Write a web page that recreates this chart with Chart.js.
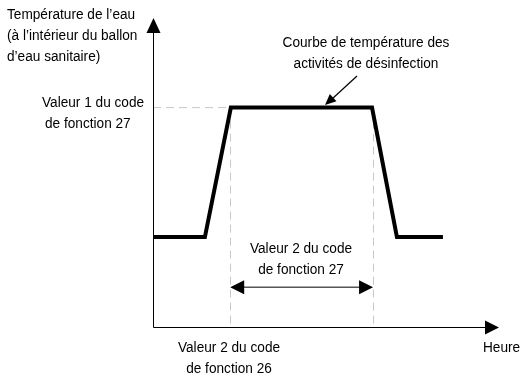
<!DOCTYPE html>
<html>
<head>
<meta charset="utf-8">
<script src="https://cdn.jsdelivr.net/npm/chart.js@4"></script>
<style>
  html, body { margin: 0; padding: 0; background: #fff; }
  #wrap { width: 521px; height: 377px; }
</style>
</head>
<body>
<div id="wrap"><canvas id="disinfChart" width="521" height="377"></canvas></div>
<script>
// Time (arbitrary units) and water temperature (arbitrary units)
const timePoints = [0, 15.0, 22.5, 63.3, 70.5, 83.8];
const tempValues = [29.1, 29.1, 71.0, 71.0, 29.1, 29.1];

// Function code 27 value 1 (temperature) and disinfection window (26 value 2 start, 27 value 2 duration)
const setpointTemp = 71.0;
const windowStart = 22.3;
const windowEnd = 63.6;
const spanArrowLevel = 12.9;

const labelFont = '15.5px "Liberation Sans", Arial, sans-serif';
const squeeze = 0.88;

function arrowHead(ctx, tipX, tipY, fromX, fromY, len, half) {
    const ang = Math.atan2(tipY - fromY, tipX - fromX);
    ctx.beginPath();
    ctx.moveTo(tipX, tipY);
    ctx.lineTo(tipX - len * Math.cos(ang) + half * Math.sin(ang), tipY - len * Math.sin(ang) - half * Math.cos(ang));
    ctx.lineTo(tipX - len * Math.cos(ang) - half * Math.sin(ang), tipY - len * Math.sin(ang) + half * Math.cos(ang));
    ctx.closePath();
    ctx.fill();
}

// narrow text, like the original drawing's font
function label(ctx, text, px, py, align) {
    ctx.save();
    ctx.translate(px, py);
    ctx.scale(squeeze, 1);
    ctx.textAlign = align;
    ctx.fillText(text, 0, 0);
    ctx.restore();
}

// Axes, arrows and labels
const diagramPlugin = {
    id: 'diagram',
    beforeDatasetsDraw(chart) {
        const ctx = chart.ctx;
        const x = chart.scales.x, y = chart.scales.y;
        const x0 = x.getPixelForValue(0), y0 = y.getPixelForValue(0);
        ctx.save();
        ctx.strokeStyle = '#c8c8c8';
        ctx.lineWidth = 1;
        ctx.setLineDash([8, 5]);
        ctx.beginPath();
        ctx.moveTo(x0, y.getPixelForValue(setpointTemp));
        ctx.lineTo(x.getPixelForValue(windowStart), y.getPixelForValue(setpointTemp));
        [windowStart, windowEnd].forEach(v => {
            const px = Math.round(x.getPixelForValue(v)) + 0.5;
            ctx.moveTo(px, y.getPixelForValue(setpointTemp));
            ctx.lineTo(px, y0);
        });
        ctx.stroke();
        ctx.restore();
    },
    afterDraw(chart) {
        const ctx = chart.ctx;
        const x = chart.scales.x, y = chart.scales.y;
        const x0 = Math.round(x.getPixelForValue(0)) + 0.5;
        const y0 = Math.round(y.getPixelForValue(0)) + 0.5;
        const xEnd = x.getPixelForValue(100), yTop = y.getPixelForValue(100);
        ctx.save();
        ctx.strokeStyle = '#000';
        ctx.fillStyle = '#000';
        ctx.lineWidth = 1;
        ctx.beginPath();
        ctx.moveTo(x0, yTop + 10);
        ctx.lineTo(x0, y0);
        ctx.lineTo(xEnd - 10, y0);
        ctx.stroke();
        arrowHead(ctx, x0, yTop, x0, y0, 15, 7);
        arrowHead(ctx, xEnd, y0, x0, y0, 14, 7);

        // duration arrow
        const ay = y.getPixelForValue(spanArrowLevel);
        const ax1 = x.getPixelForValue(windowStart), ax2 = x.getPixelForValue(windowEnd);
        ctx.strokeStyle = '#555';
        ctx.lineWidth = 1.5;
        ctx.beginPath();
        ctx.moveTo(ax1 + 8, ay);
        ctx.lineTo(ax2 - 8, ay);
        ctx.stroke();
        ctx.fillStyle = '#000';
        arrowHead(ctx, ax1, ay, ax2, ay, 14, 7);
        arrowHead(ctx, ax2, ay, ax1, ay, 14, 7);

        // pointer to the curve
        ctx.strokeStyle = '#000';
        ctx.lineWidth = 1.2;
        ctx.beginPath();
        ctx.moveTo(357, 76);
        ctx.lineTo(332, 99);
        ctx.stroke();
        arrowHead(ctx, 325, 105, 357, 76, 11, 5);

        // texts
        ctx.fillStyle = '#000';
        ctx.font = labelFont;
        ctx.textBaseline = 'middle';
        label(ctx, 'Température de l\u2019eau', 7, 15, 'left');
        label(ctx, '(à l\u2019intérieur du ballon', 7, 36, 'left');
        label(ctx, 'd\u2019eau sanitaire)', 7, 57, 'left');
        label(ctx, 'Valeur 1 du code', 42, 103, 'left');
        label(ctx, 'de fonction 27', 45, 124, 'left');
        label(ctx, 'Heure', 483, 348, 'left');
        label(ctx, 'Courbe de température des', 366, 43, 'center');
        label(ctx, 'activités de désinfection', 366, 64, 'center');
        label(ctx, 'Valeur 2 du code', 301, 249, 'center');
        label(ctx, 'de fonction 27', 301, 270, 'center');
        label(ctx, 'Valeur 2 du code', 229, 348, 'center');
        label(ctx, 'de fonction 26', 229, 369, 'center');
        ctx.restore();
    }
};

new Chart(document.getElementById('disinfChart'), {
    type: 'line',
    data: {
        datasets: [{
            data: timePoints.map((t, i) => ({ x: t, y: tempValues[i] })),
            borderColor: '#000',
            borderWidth: 4,
            borderJoinStyle: 'miter',
            pointRadius: 0,
            tension: 0,
            fill: false
        }]
    },
    options: {
        responsive: false,
        animation: false,
        events: [],
        layout: { padding: { left: 153, right: 22, top: 18, bottom: 50 } },
        plugins: { legend: { display: false }, tooltip: { enabled: false } },
        scales: {
            x: { type: 'linear', min: 0, max: 100, display: false },
            y: { min: 0, max: 100, display: false }
        }
    },
    plugins: [diagramPlugin]
});
</script>
</body>
</html>
